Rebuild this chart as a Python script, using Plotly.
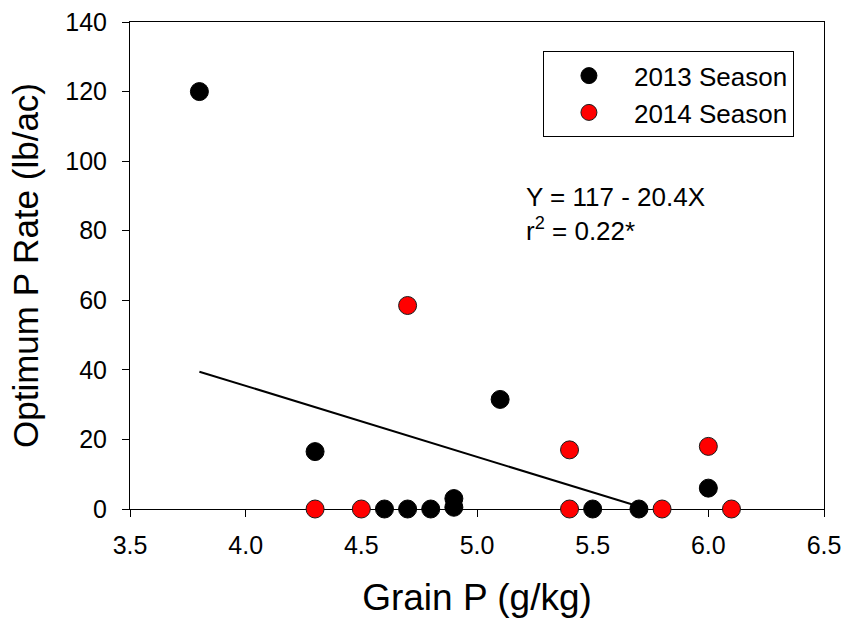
import plotly.graph_objects as go

# Grain P (g/kg) and optimum P rate (lb/ac), by season
grain_p_2013 = [3.8, 4.3, 4.6, 4.7, 4.8, 4.9, 4.9, 5.1, 5.5, 5.7, 6.0]
opt_rate_2013 = [120, 16.5, 0, 0, 0, 0.5, 3, 31.5, 0, 0, 6]

grain_p_2014 = [4.3, 4.5, 4.7, 5.4, 5.4, 5.8, 6.0, 6.1]
opt_rate_2014 = [0, 0, 58.5, 17, 0, 0, 18, 0]

# Fitted regression Y = 117 - 20.4X, drawn from the lowest grain P to where it reaches zero
intercept = 117
slope = -20.4
fit_x = [3.8, -intercept / slope]
fit_y = [intercept + slope * x for x in fit_x]

x_ticks = [3.5, 4.0, 4.5, 5.0, 5.5, 6.0, 6.5]
y_ticks = [0, 20, 40, 60, 80, 100, 120, 140]

FONT = "Liberation Sans, Arial, sans-serif"

fig = go.Figure()

fig.add_trace(go.Scatter(
    x=fit_x, y=fit_y, mode="lines",
    line=dict(color="black", width=2),
    showlegend=False, hoverinfo="skip",
))

fig.add_trace(go.Scatter(
    x=grain_p_2013, y=opt_rate_2013, mode="markers",
    name="2013 Season",
    marker=dict(size=18, color="black", line=dict(color="black", width=1)),
    cliponaxis=False,
))

fig.add_trace(go.Scatter(
    x=grain_p_2014, y=opt_rate_2014, mode="markers",
    name="2014 Season",
    marker=dict(size=18, color="#ff0000", line=dict(color="#1a1a1a", width=1)),
    cliponaxis=False,
))

axis_common = dict(
    showgrid=False, zeroline=False,
    showline=True, linecolor="black", linewidth=1, mirror=True,
    ticks="outside", ticklen=7, tickwidth=1, tickcolor="black",
    tickfont=dict(family=FONT, size=25, color="black"),
    layer="below traces",
    automargin=False,
)

fig.update_xaxes(
    range=[3.5, 6.5], tickvals=x_ticks,
    ticktext=[f"{v:.1f}" for v in x_ticks],
    ticklabelstandoff=7,
    title=dict(text="Grain P (g/kg)", font=dict(family=FONT, size=37, color="black"), standoff=26),
    **axis_common,
)
fig.update_yaxes(
    range=[0, 140], tickvals=y_ticks,
    ticklabelstandoff=10,
    title=dict(text="Optimum P Rate (lb/ac)", font=dict(family=FONT, size=35, color="black"), standoff=16),
    **axis_common,
)

fig.add_annotation(
    x=5.205, y=89.7, xref="x", yref="y",
    text="Y = 117 - 20.4X", showarrow=False,
    xanchor="left", yanchor="middle",
    font=dict(family=FONT, size=26, color="black"),
)
fig.add_annotation(
    x=5.205, y=80.3, xref="x", yref="y",
    text="r<sup>2</sup> = 0.22*", showarrow=False,
    xanchor="left", yanchor="middle",
    font=dict(family=FONT, size=26, color="black"),
)

fig.update_layout(
    width=845, height=619,
    margin=dict(l=130, r=21, t=22, b=110),
    paper_bgcolor="white", plot_bgcolor="white",
    font=dict(family=FONT, color="black"),
    legend=dict(
        x=0.595, y=0.94, xanchor="left", yanchor="top",
        bgcolor="white", bordercolor="black", borderwidth=1,
        font=dict(family=FONT, size=26, color="black"),
        itemwidth=80,
    ),
)

fig.write_html("out.html")
